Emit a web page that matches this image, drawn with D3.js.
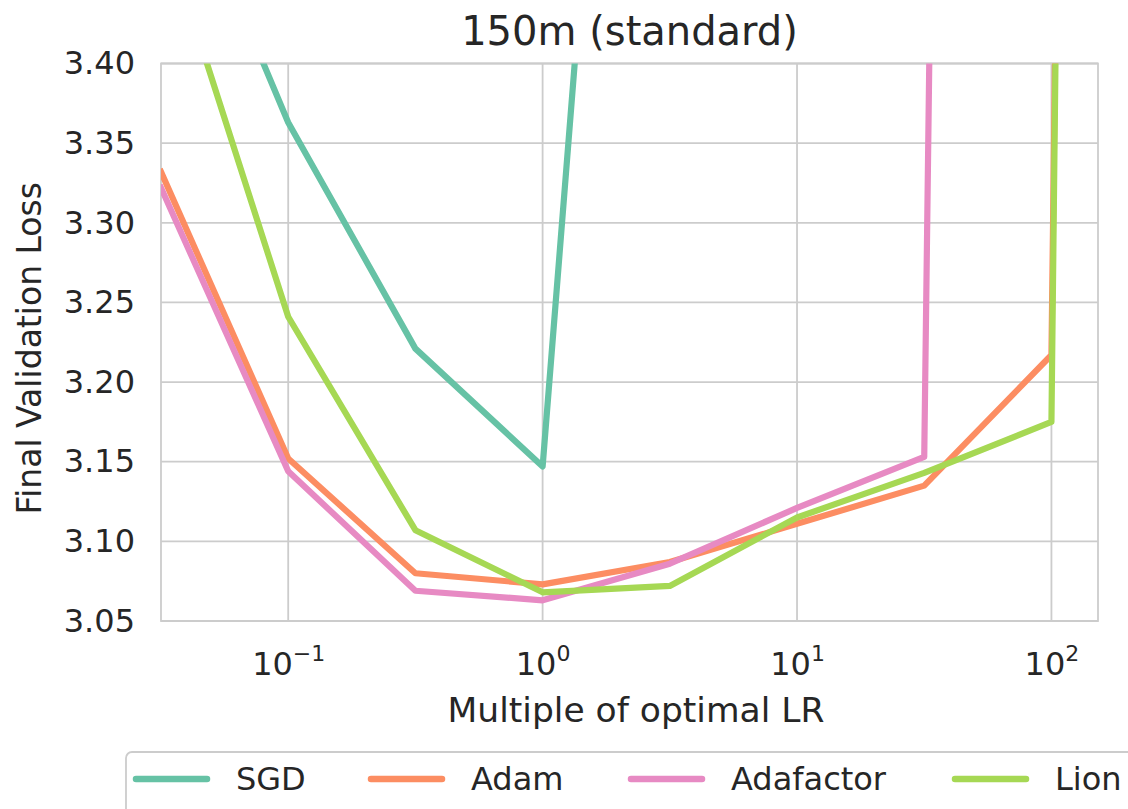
<!DOCTYPE html>
<html>
<head>
<meta charset="utf-8">
<script src="https://cdn.jsdelivr.net/npm/d3@7"></script>
<style>
  html, body { margin: 0; padding: 0; background: #ffffff; }
  svg { display: block; font-family: "DejaVu Sans", sans-serif; }
</style>
</head>
<body>
<svg id="chart" width="1128" height="809"></svg>
<script>
// Learning-rate multiples swept for each optimizer
const lrMultiples = [0.03162, 0.1, 0.3162, 1, 3.162, 10, 31.62, 100, 316.2];

// Final validation loss per optimizer (null = run not reported)
const sgdLoss       = [3.553, 3.363, 3.221, 3.147, 4.15, null, null, null, null];
const adamLoss      = [3.332, 3.152, 3.080, 3.073, 3.087, 3.111, 3.135, 3.217, 9.8];
const adafactorLoss = [3.322, 3.144, 3.069, 3.063, 3.086, 3.121, 3.153, 9.4, null];
const lionLoss      = [3.49, 3.241, 3.107, 3.068, 3.072, 3.115, 3.143, 3.175, 10.3];

const seriesNames  = ["SGD", "Adam", "Adafactor", "Lion"];
const seriesColors = ["#66c2a5", "#fc8d62", "#e78ac3", "#a6d854"];
const seriesValues = [sgdLoss, adamLoss, adafactorLoss, lionLoss];

const yTicks = [3.05, 3.10, 3.15, 3.20, 3.25, 3.30, 3.35, 3.40];
const xTickExponents = [-1, 0, 1, 2];

const svg = d3.select("#chart");
const plot = { left: 161, right: 1098, top: 63.5, bottom: 621 };

const x = d3.scaleLog()
  .domain([Math.pow(10, -1.5), Math.pow(10, 2.183)])
  .range([plot.left, plot.right]);
const y = d3.scaleLinear()
  .domain([3.05, 3.40])
  .range([plot.bottom, plot.top]);

const gridColor = "#cccccc";
const textColor = "#262626";

// Grid lines
const grid = svg.append("g");
grid.selectAll("line.h").data(yTicks).join("line")
  .attr("x1", plot.left).attr("x2", plot.right)
  .attr("y1", d => y(d)).attr("y2", d => y(d))
  .attr("stroke", gridColor).attr("stroke-width", 1.8);
grid.selectAll("line.v").data(xTickExponents).join("line")
  .attr("x1", d => x(Math.pow(10, d))).attr("x2", d => x(Math.pow(10, d)))
  .attr("y1", plot.top).attr("y2", plot.bottom)
  .attr("stroke", gridColor).attr("stroke-width", 1.8);

// Y axis tick labels
const yAxis = d3.axisLeft(y).tickValues(yTicks).tickSize(0).tickPadding(26)
  .tickFormat(d3.format(".2f"));
const yG = svg.append("g").attr("transform", `translate(${plot.left},0)`).call(yAxis);
yG.select(".domain").remove();
yG.selectAll("text").attr("font-size", 32).attr("fill", textColor)
  .attr("font-family", "DejaVu Sans");

// X axis tick labels with superscript exponents
const xAxis = d3.axisBottom(x).tickValues(xTickExponents.map(e => Math.pow(10, e)))
  .tickSize(0).tickPadding(0).tickFormat("");
const xG = svg.append("g").attr("transform", `translate(0,${plot.bottom})`).call(xAxis);
xG.select(".domain").remove();
xG.selectAll(".tick").each(function(d, i) {
  const e = xTickExponents[i];
  const t = d3.select(this).select("text")
    .attr("font-size", 32).attr("fill", textColor)
    .attr("font-family", "DejaVu Sans")
    .attr("y", 54).attr("dy", null);
  t.append("tspan").text("10");
  t.append("tspan").attr("font-size", 22).attr("dy", -14)
    .text(e < 0 ? "\u2212" + Math.abs(e) : String(e));
});

// Plot frame
svg.append("rect")
  .attr("x", plot.left).attr("y", plot.top)
  .attr("width", plot.right - plot.left).attr("height", plot.bottom - plot.top)
  .attr("fill", "none").attr("stroke", gridColor).attr("stroke-width", 1.8);

// Clipped loss curves
svg.append("clipPath").attr("id", "plot-clip").append("rect")
  .attr("x", plot.left).attr("y", plot.top)
  .attr("width", plot.right - plot.left).attr("height", plot.bottom - plot.top);

const line = d3.line()
  .defined(d => d[1] != null)
  .x(d => x(d[0])).y(d => y(d[1]));

const curves = svg.append("g").attr("clip-path", "url(#plot-clip)");
seriesValues.forEach((vals, i) => {
  const pts = lrMultiples.map((m, j) => [m, vals[j]]).filter(p => p[1] != null);
  curves.append("path")
    .attr("d", line(pts))
    .attr("fill", "none")
    .attr("stroke", seriesColors[i])
    .attr("stroke-width", 6.2)
    .attr("stroke-linejoin", "round")
    .attr("stroke-linecap", "square");
});

// Title and axis labels
svg.append("text")
  .attr("x", (plot.left + plot.right) / 2).attr("y", 45)
  .attr("text-anchor", "middle").attr("font-size", 40).attr("fill", textColor)
  .text("150m (standard)");
svg.append("text")
  .attr("x", 636).attr("y", 722)
  .attr("text-anchor", "middle").attr("font-size", 34.5).attr("fill", textColor)
  .text("Multiple of optimal LR");
svg.append("text")
  .attr("transform", `translate(41,${(plot.top + plot.bottom) / 2 + 6}) rotate(-90)`)
  .attr("text-anchor", "middle").attr("font-size", 33).attr("fill", textColor)
  .text("Final Validation Loss");

// Legend
const legend = svg.append("g");
legend.append("rect")
  .attr("x", 126).attr("y", 752).attr("width", 1040).attr("height", 80)
  .attr("rx", 6).attr("fill", "#ffffff").attr("stroke", "#cccccc").attr("stroke-width", 1.8);
const legendX = [136, 371, 631, 955];
seriesNames.forEach((name, i) => {
  legend.append("line")
    .attr("x1", legendX[i]).attr("x2", legendX[i] + 71)
    .attr("y1", 779).attr("y2", 779)
    .attr("stroke", seriesColors[i]).attr("stroke-width", 6.5)
    .attr("stroke-linecap", "round");
  legend.append("text")
    .attr("x", legendX[i] + 100).attr("y", 790)
    .attr("font-size", 32).attr("fill", textColor)
    .text(name);
});
</script>
</body>
</html>
